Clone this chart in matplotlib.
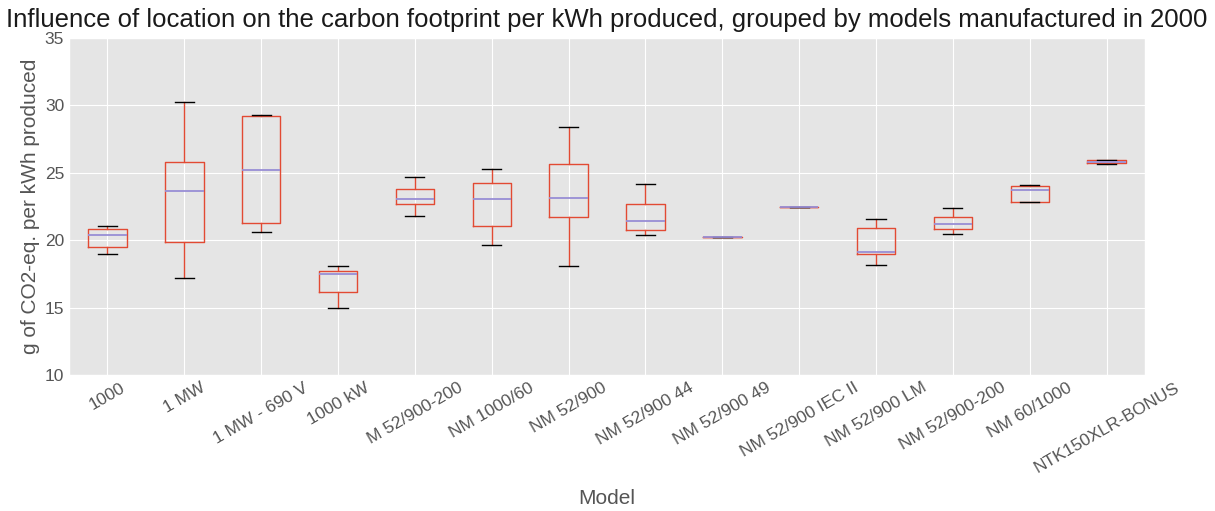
import matplotlib.pyplot as plt

plt.style.use("ggplot")
plt.rcParams["font.family"] = ["Liberation Sans", "DejaVu Sans"]

models = ["1000", "1 MW", "1 MW - 690 V", "1000 kW", "M 52/900-200", "NM 1000/60",
          "NM 52/900", "NM 52/900 44", "NM 52/900 49", "NM 52/900 IEC II",
          "NM 52/900 LM", "NM 52/900-200", "NM 60/1000", "NTK150XLR-BONUS"]

# box statistics (g CO2-eq per kWh)
whislo = [19.01, 17.20, 20.62, 15.00, 21.78, 19.63, 18.12, 20.40, 20.23, 22.45, 18.17, 20.45, 22.82, 25.68]
q1     = [19.53, 19.88, 21.31, 16.14, 22.70, 21.09, 21.74, 20.79, 20.23, 22.45, 18.99, 20.87, 22.82, 25.76]
med    = [20.42, 23.66, 25.20, 17.50, 23.07, 23.05, 23.15, 21.46, 20.23, 22.45, 19.16, 21.19, 23.74, 25.84]
q3     = [20.82, 25.80, 29.18, 17.75, 23.79, 24.28, 25.69, 22.67, 20.23, 22.45, 20.92, 21.71, 24.01, 25.92]
whishi = [21.02, 30.25, 29.26, 18.07, 24.68, 25.32, 28.39, 24.19, 20.23, 22.45, 21.56, 22.38, 24.09, 25.97]

stats = []
for i, name in enumerate(models):
    stats.append(dict(label=name, whislo=whislo[i], q1=q1[i], med=med[i],
                      q3=q3[i], whishi=whishi[i], fliers=[]))

fig = plt.figure(figsize=(12.15, 5.11), dpi=100)
ax = fig.add_axes([0.0568, 0.266, 0.8856, 0.6596])

ax.bxp(stats, showfliers=False,
       boxprops=dict(color="#E24A33"),
       whiskerprops=dict(color="#E24A33"),
       capprops=dict(color="k"),
       medianprops=dict(color="#988ED5", linewidth=1.3))

ax.set_ylim(10, 35)
ax.tick_params(axis="both", length=0, colors="#555555")
ax.tick_params(axis="x", labelrotation=30, labelsize=12.5)
ax.tick_params(axis="y", labelsize=12.5)
ax.set_xlabel("Model", fontsize=15, color="#555555", labelpad=10)
ax.set_ylabel("g of CO2-eq. per kWh produced", fontsize=15, color="#555555", labelpad=3)
ax.set_title("Influence of location on the carbon footprint per kWh produced, "
             "grouped by models manufactured in 2000", fontsize=18.5, color="#1a1a1a", pad=8)

fig.savefig("out.png", dpi=100)
